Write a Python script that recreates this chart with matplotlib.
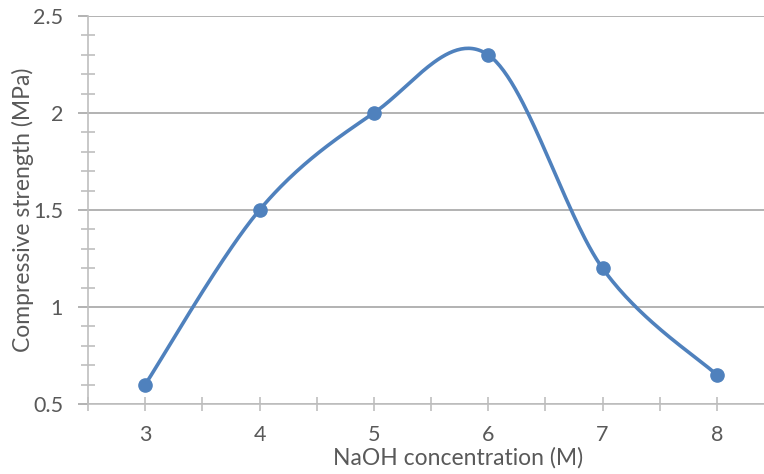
import numpy as np
import matplotlib
matplotlib.use("Agg")
import matplotlib.pyplot as plt
from matplotlib.ticker import MultipleLocator

plt.rcParams['font.family'] = ['Lato', 'DejaVu Sans']

# Data
naoh = [3, 4, 5, 6, 7, 8]
strength = [0.6, 1.5, 2.0, 2.3, 1.2, 0.65]
ytick_vals = [0.5, 1, 1.5, 2, 2.5]
ytick_labels = ['0.5', '1', '1.5', '2', '2.5']
xlabel = "NaOH concentration (M)"
ylabel = "Compressive strength (MPa)"

W, H = 764, 474
fig = plt.figure(figsize=(W / 100, H / 100), dpi=100)
ax_l, ax_r, ax_t, ax_b = 88, 774, 16, 404
ax = fig.add_axes([ax_l / W, (H - ax_b) / H, (ax_r - ax_l) / W, (ax_b - ax_t) / H])

text_color = '#595959'
line_color = '#4F81BD'
grid_color = '#A6A6A6'
axis_color = '#BFBFBF'

# Excel-style smoothed curve (Catmull-Rom as cubic Bezier)
x = np.array(naoh, dtype=float)
y = np.array(strength, dtype=float)
px = np.concatenate([[x[0]], x, [x[-1]]])
py = np.concatenate([[y[0]], y, [y[-1]]])
cx, cy = [], []
t = np.linspace(0, 1, 60)
for i in range(len(x) - 1):
    p0 = np.array([x[i], y[i]])
    p3 = np.array([x[i + 1], y[i + 1]])
    p1 = p0 + (np.array([px[i + 2], py[i + 2]]) - np.array([px[i], py[i]])) / 6
    p2 = p3 - (np.array([px[i + 3], py[i + 3]]) - np.array([px[i + 1], py[i + 1]])) / 6
    b = ((1 - t) ** 3)[:, None] * p0 + (3 * (1 - t) ** 2 * t)[:, None] * p1 \
        + (3 * (1 - t) * t ** 2)[:, None] * p2 + (t ** 3)[:, None] * p3
    cx.extend(b[:, 0]); cy.extend(b[:, 1])

ax.plot(cx, cy, color=line_color, lw=2.6, solid_capstyle='round', zorder=3)
ax.plot(x, y, 'o', color=line_color, ms=9.5, zorder=4)

ax.set_xlim(2.5, 8.5)
ax.set_ylim(0.5, 2.5)
ax.set_xticks(naoh)
ax.set_xticklabels([str(v) for v in naoh])
ax.xaxis.set_minor_locator(MultipleLocator(0.5))
ax.set_yticks(ytick_vals)
ax.set_yticklabels(ytick_labels)
ax.yaxis.set_minor_locator(MultipleLocator(0.1))

ax.grid(axis='y', which='major', color=grid_color, lw=1.2)
ax.set_axisbelow(True)
for s in ['top', 'right']:
    ax.spines[s].set_visible(False)
for s in ['left', 'bottom']:
    ax.spines[s].set_color(axis_color)
    ax.spines[s].set_linewidth(1.2)

ax.tick_params(axis='x', which='both', direction='inout', length=10, width=1.2,
               color=axis_color, labelsize=15.5, labelcolor=text_color, pad=10)
ax.tick_params(axis='y', which='major', direction='out', length=7, width=1.2,
               color=grid_color, labelsize=15.5, labelcolor=text_color, pad=11)
ax.tick_params(axis='y', which='minor', direction='inout', length=10, width=1.2,
               color=axis_color)

ax.set_xlabel(xlabel, fontsize=16.5, color=text_color)
ax.set_ylabel(ylabel, fontsize=16.5, color=text_color)
ax.xaxis.set_label_coords((458 - ax_l) / (ax_r - ax_l), (ax_b - 447) / (ax_b - ax_t))
ax.yaxis.set_label_coords((34 - ax_l) / (ax_r - ax_l), (ax_b - 210) / (ax_b - ax_t))

fig.savefig('out.png', dpi=100)
